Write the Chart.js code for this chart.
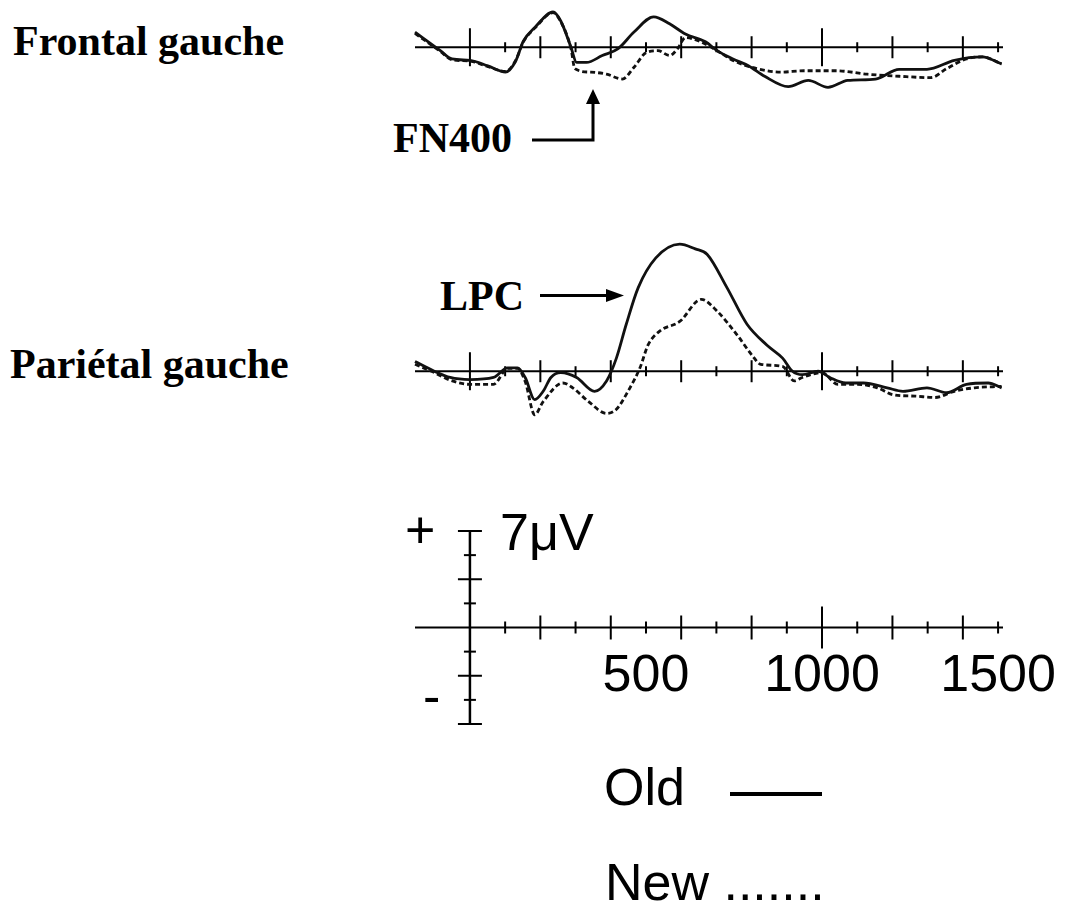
<!DOCTYPE html>
<html>
<head>
<meta charset="utf-8">
<script src="https://cdn.jsdelivr.net/npm/chart.js@4.4.1/dist/chart.umd.min.js"></script>
<style>
  body { margin: 0; background: #fff; }
  #page { position: relative; width: 1079px; height: 910px; overflow: hidden; background: #fff; }
  canvas { position: absolute; }
  .lab { position: absolute; white-space: nowrap; line-height: 1; color: #000; }
  .serif { font-family: "Liberation Serif", "Times New Roman", serif; font-weight: bold; font-size: 42px; }
  .sans { font-family: "Liberation Sans", Arial, sans-serif; font-size: 52px; }
</style>
</head>
<body>
<div id="page">
  <div class="lab serif" style="left:13px; top:20px;">Frontal gauche</div>
  <div class="lab serif" style="left:393px; top:117px;">FN400</div>
  <div class="lab serif" style="left:440px; top:275px;">LPC</div>
  <div class="lab serif" style="left:10px; top:343px;">Pariétal gauche</div>

  <div class="lab sans" style="left:405px; top:504px;">+</div>
  <div class="lab sans" style="left:423px; top:670px;">-</div>
  <div class="lab sans" style="left:500px; top:506px;">7μV</div>

  <div class="lab sans" style="left:604px; top:761px;">Old</div>
  <div style="position:absolute; left:730px; top:792px; width:92px; height:4px; background:#000;"></div>
  <div class="lab sans" style="left:605px; top:856px;">New .......</div>

  <svg width="1079" height="910" style="position:absolute; left:0; top:0;">
    <polyline points="532,140 593,140 593,102" stroke="#000" stroke-width="3" fill="none"/>
    <polygon points="586,104 600,104 593,89" fill="#000"/>
    <line x1="540" y1="295.5" x2="610" y2="295.5" stroke="#000" stroke-width="3"/>
    <polygon points="606,289 606,302 624,295.5" fill="#000"/>
  </svg>

  <canvas id="frontal"></canvas>
  <canvas id="parietal"></canvas>
  <canvas id="scale"></canvas>
</div>

<script>
// time in ms, amplitude in µV
const TIME_TICKS = [0, 100, 200, 300, 400, 500, 600, 700, 800, 900, 1000, 1100, 1200, 1300, 1400, 1500];
const UV_TICKS = [-7, -5.25, -3.5, -1.75, 1.75, 3.5, 5.25, 7];
const X_LABELS = [500, 1000, 1500];
const X_MIN = -156;
const X_MAX = 1514;

const frontalOldMs = [-156, -84, -51, 0, 51, 101, 129, 152, 185, 236, 258, 287, 303, 331, 376, 421, 466, 522, 567, 612, 669, 702, 747, 792, 837, 904, 961, 1017, 1073, 1152, 1219, 1298, 1376, 1455, 1510];
const frontalOldUv = [1.1, -0.25, -0.85, -0.95, -1.35, -1.8, -1.05, 0.45, 1.45, 2.55, 1.9, 0, -1.1, -1.1, -0.6, -0.1, 1.1, 2.2, 1.7, 0.95, 0.4, -0.25, -0.85, -1.35, -2.1, -2.85, -2.4, -2.9, -2.4, -2.3, -1.6, -1.6, -0.95, -0.7, -1.2];

const frontalNewMs = [-156, -84, -51, 0, 51, 101, 129, 152, 185, 236, 258, 287, 298, 343, 388, 433, 466, 500, 534, 567, 590, 612, 655, 702, 747, 815, 882, 949, 1039, 1129, 1219, 1309, 1354, 1410, 1455, 1510];
const frontalNewUv = [1.0, -0.3, -0.9, -1.0, -1.4, -1.75, -1.0, 0.4, 1.4, 2.5, 1.85, -0.1, -1.55, -1.8, -1.95, -2.3, -1.45, -0.4, -0.25, -0.6, -0.1, 0.7, 0.4, -0.25, -0.95, -1.55, -1.8, -1.7, -1.7, -1.95, -2.1, -2.2, -1.55, -0.85, -0.7, -1.2];

const parietalOldMs = [-156, -101, -56, 0, 67, 107, 135, 157, 184, 208, 230, 258, 303, 354, 388, 416, 444, 478, 528, 596, 640, 674, 730, 787, 843, 888, 916, 944, 989, 1022, 1067, 1118, 1185, 1230, 1298, 1354, 1410, 1472, 1510];
const parietalOldUv = [0.7, 0, -0.45, -0.6, -0.45, 0.25, 0.25, -0.45, -2.05, -1.45, -0.45, -0.1, -0.45, -1.45, -0.7, 0.95, 3.4, 6.05, 8.2, 9.2, 8.85, 8.45, 6.05, 3.4, 1.9, 0.95, 0, -0.25, 0, -0.45, -0.85, -0.85, -1.2, -1.45, -1.2, -1.55, -0.95, -0.85, -1.2];

const parietalNewMs = [-156, -101, -56, 0, 67, 107, 135, 157, 184, 208, 264, 292, 337, 388, 416, 449, 483, 506, 539, 596, 657, 702, 758, 803, 826, 888, 921, 944, 1000, 1045, 1101, 1157, 1202, 1264, 1320, 1376, 1433, 1510];
const parietalNewUv = [0.5, -0.1, -0.65, -0.95, -0.95, 0.2, 0.2, -0.75, -3.15, -2.2, -0.85, -1.2, -2.2, -3.05, -2.75, -1.45, 0.25, 1.9, 2.9, 3.6, 5.2, 4.35, 2.65, 1.1, 0.5, 0.35, -0.7, -0.45, -0.1, -0.95, -0.95, -1.2, -1.7, -1.8, -1.9, -1.45, -1.2, -1.1];

// page geometry
const AREA_LEFT = 415;
const AREA_RIGHT = 1003;
const PX_PER_UV = 13.8;
const PAD = 12;
const PAD_RIGHT = 90;

function toPoints(ms, uv) {
    return ms.map((t, i) => ({ x: t, y: uv[i] }));
}

function place(canvas, baseY, uvTop, uvBottom) {
    const top = baseY - uvTop * PX_PER_UV;
    const h = (uvTop - uvBottom) * PX_PER_UV;
    canvas.width = AREA_RIGHT - AREA_LEFT + PAD + PAD_RIGHT;
    canvas.height = Math.round(h + 2 * PAD);
    canvas.style.left = (AREA_LEFT - PAD) + 'px';
    canvas.style.top = (top - PAD) + 'px';
}

// baseline with crossing tick marks, plus the calibration cross
const erpAxes = {
    id: 'erpAxes',
    beforeDatasetsDraw(chart, args, opts) {
        const { ctx, chartArea } = chart;
        const x = chart.scales.x;
        const y = chart.scales.y;
        const y0 = y.getPixelForValue(0);
        ctx.save();
        ctx.strokeStyle = '#000';
        ctx.lineWidth = 2;
        ctx.beginPath();
        ctx.moveTo(chartArea.left, y0);
        ctx.lineTo(chartArea.right, y0);
        ctx.stroke();

        TIME_TICKS.forEach(ms => {
            if (opts.kind === 'scale' && ms === 0) return;
            let h;
            if (opts.kind === 'scale') {
                h = ms === 1000 ? 21 : (ms % 200 === 0 ? 12 : 6);
            } else {
                h = ms % 1000 === 0 ? 19 : (ms % 200 === 0 ? 11 : 5);
            }
            const px = x.getPixelForValue(ms);
            ctx.beginPath();
            ctx.moveTo(px, y0 - h);
            ctx.lineTo(px, y0 + h);
            ctx.stroke();
        });

        if (opts.kind === 'scale') {
            const x0 = x.getPixelForValue(0);
            ctx.lineWidth = 2.5;
            ctx.beginPath();
            ctx.moveTo(x0, y.getPixelForValue(7));
            ctx.lineTo(x0, y.getPixelForValue(-7));
            ctx.stroke();
            ctx.lineWidth = 2;
            UV_TICKS.forEach(v => {
                const h = Math.abs(v) % 3.5 === 0 ? 12 : 6;
                const py = y.getPixelForValue(v);
                ctx.beginPath();
                ctx.moveTo(x0 - h, py);
                ctx.lineTo(x0 + h, py);
                ctx.stroke();
            });
        }
        ctx.restore();
    }
};

function traceDatasets(oldMs, oldUv, newMs, newUv) {
    return [{
        label: 'Old',
        data: toPoints(oldMs, oldUv),
        borderColor: '#111',
        borderWidth: 2.8,
        cubicInterpolationMode: 'monotone',
        pointRadius: 0,
        fill: false,
        clip: false
    }, {
        label: 'New',
        data: toPoints(newMs, newUv),
        borderColor: '#111',
        borderWidth: 2.8,
        borderDash: [5, 3],
        cubicInterpolationMode: 'monotone',
        pointRadius: 0,
        fill: false,
        clip: false
    }];
}

function baseOptions(uvTop, uvBottom, kind) {
    return {
        responsive: false,
        animation: false,
        layout: { padding: { left: PAD, right: PAD_RIGHT, top: PAD, bottom: PAD } },
        plugins: {
            legend: { display: false },
            tooltip: { enabled: false },
            erpAxes: { kind: kind }
        },
        scales: {
            x: { type: 'linear', min: X_MIN, max: X_MAX, display: false },
            y: { type: 'linear', min: uvBottom, max: uvTop, display: false }
        }
    };
}

const frontalCanvas = document.getElementById('frontal');
place(frontalCanvas, 47, 3.2, -3.6);
new Chart(frontalCanvas, {
    type: 'line',
    data: { datasets: traceDatasets(frontalOldMs, frontalOldUv, frontalNewMs, frontalNewUv) },
    options: baseOptions(3.2, -3.6, 'trace'),
    plugins: [erpAxes]
});

const parietalCanvas = document.getElementById('parietal');
place(parietalCanvas, 370.5, 10, -3.6);
new Chart(parietalCanvas, {
    type: 'line',
    data: { datasets: traceDatasets(parietalOldMs, parietalOldUv, parietalNewMs, parietalNewUv) },
    options: baseOptions(10, -3.6, 'trace'),
    plugins: [erpAxes]
});

const scaleCanvas = document.getElementById('scale');
place(scaleCanvas, 627.5, 7, -7);
const scaleOptions = baseOptions(7, -7, 'scale');
scaleOptions.scales.x = {
    type: 'linear',
    min: X_MIN,
    max: X_MAX,
    position: { y: 0 },
    grid: { display: false },
    border: { display: false },
    afterBuildTicks: axis => { axis.ticks = X_LABELS.map(v => ({ value: v })); },
    ticks: {
        autoSkip: false,
        maxRotation: 0,
        padding: 10,
        color: '#000',
        font: { family: '"Liberation Sans", Arial, sans-serif', size: 52 },
        callback: value => String(value)
    }
};
new Chart(scaleCanvas, {
    type: 'line',
    data: { datasets: [] },
    options: scaleOptions,
    plugins: [erpAxes]
});
</script>
</body>
</html>
